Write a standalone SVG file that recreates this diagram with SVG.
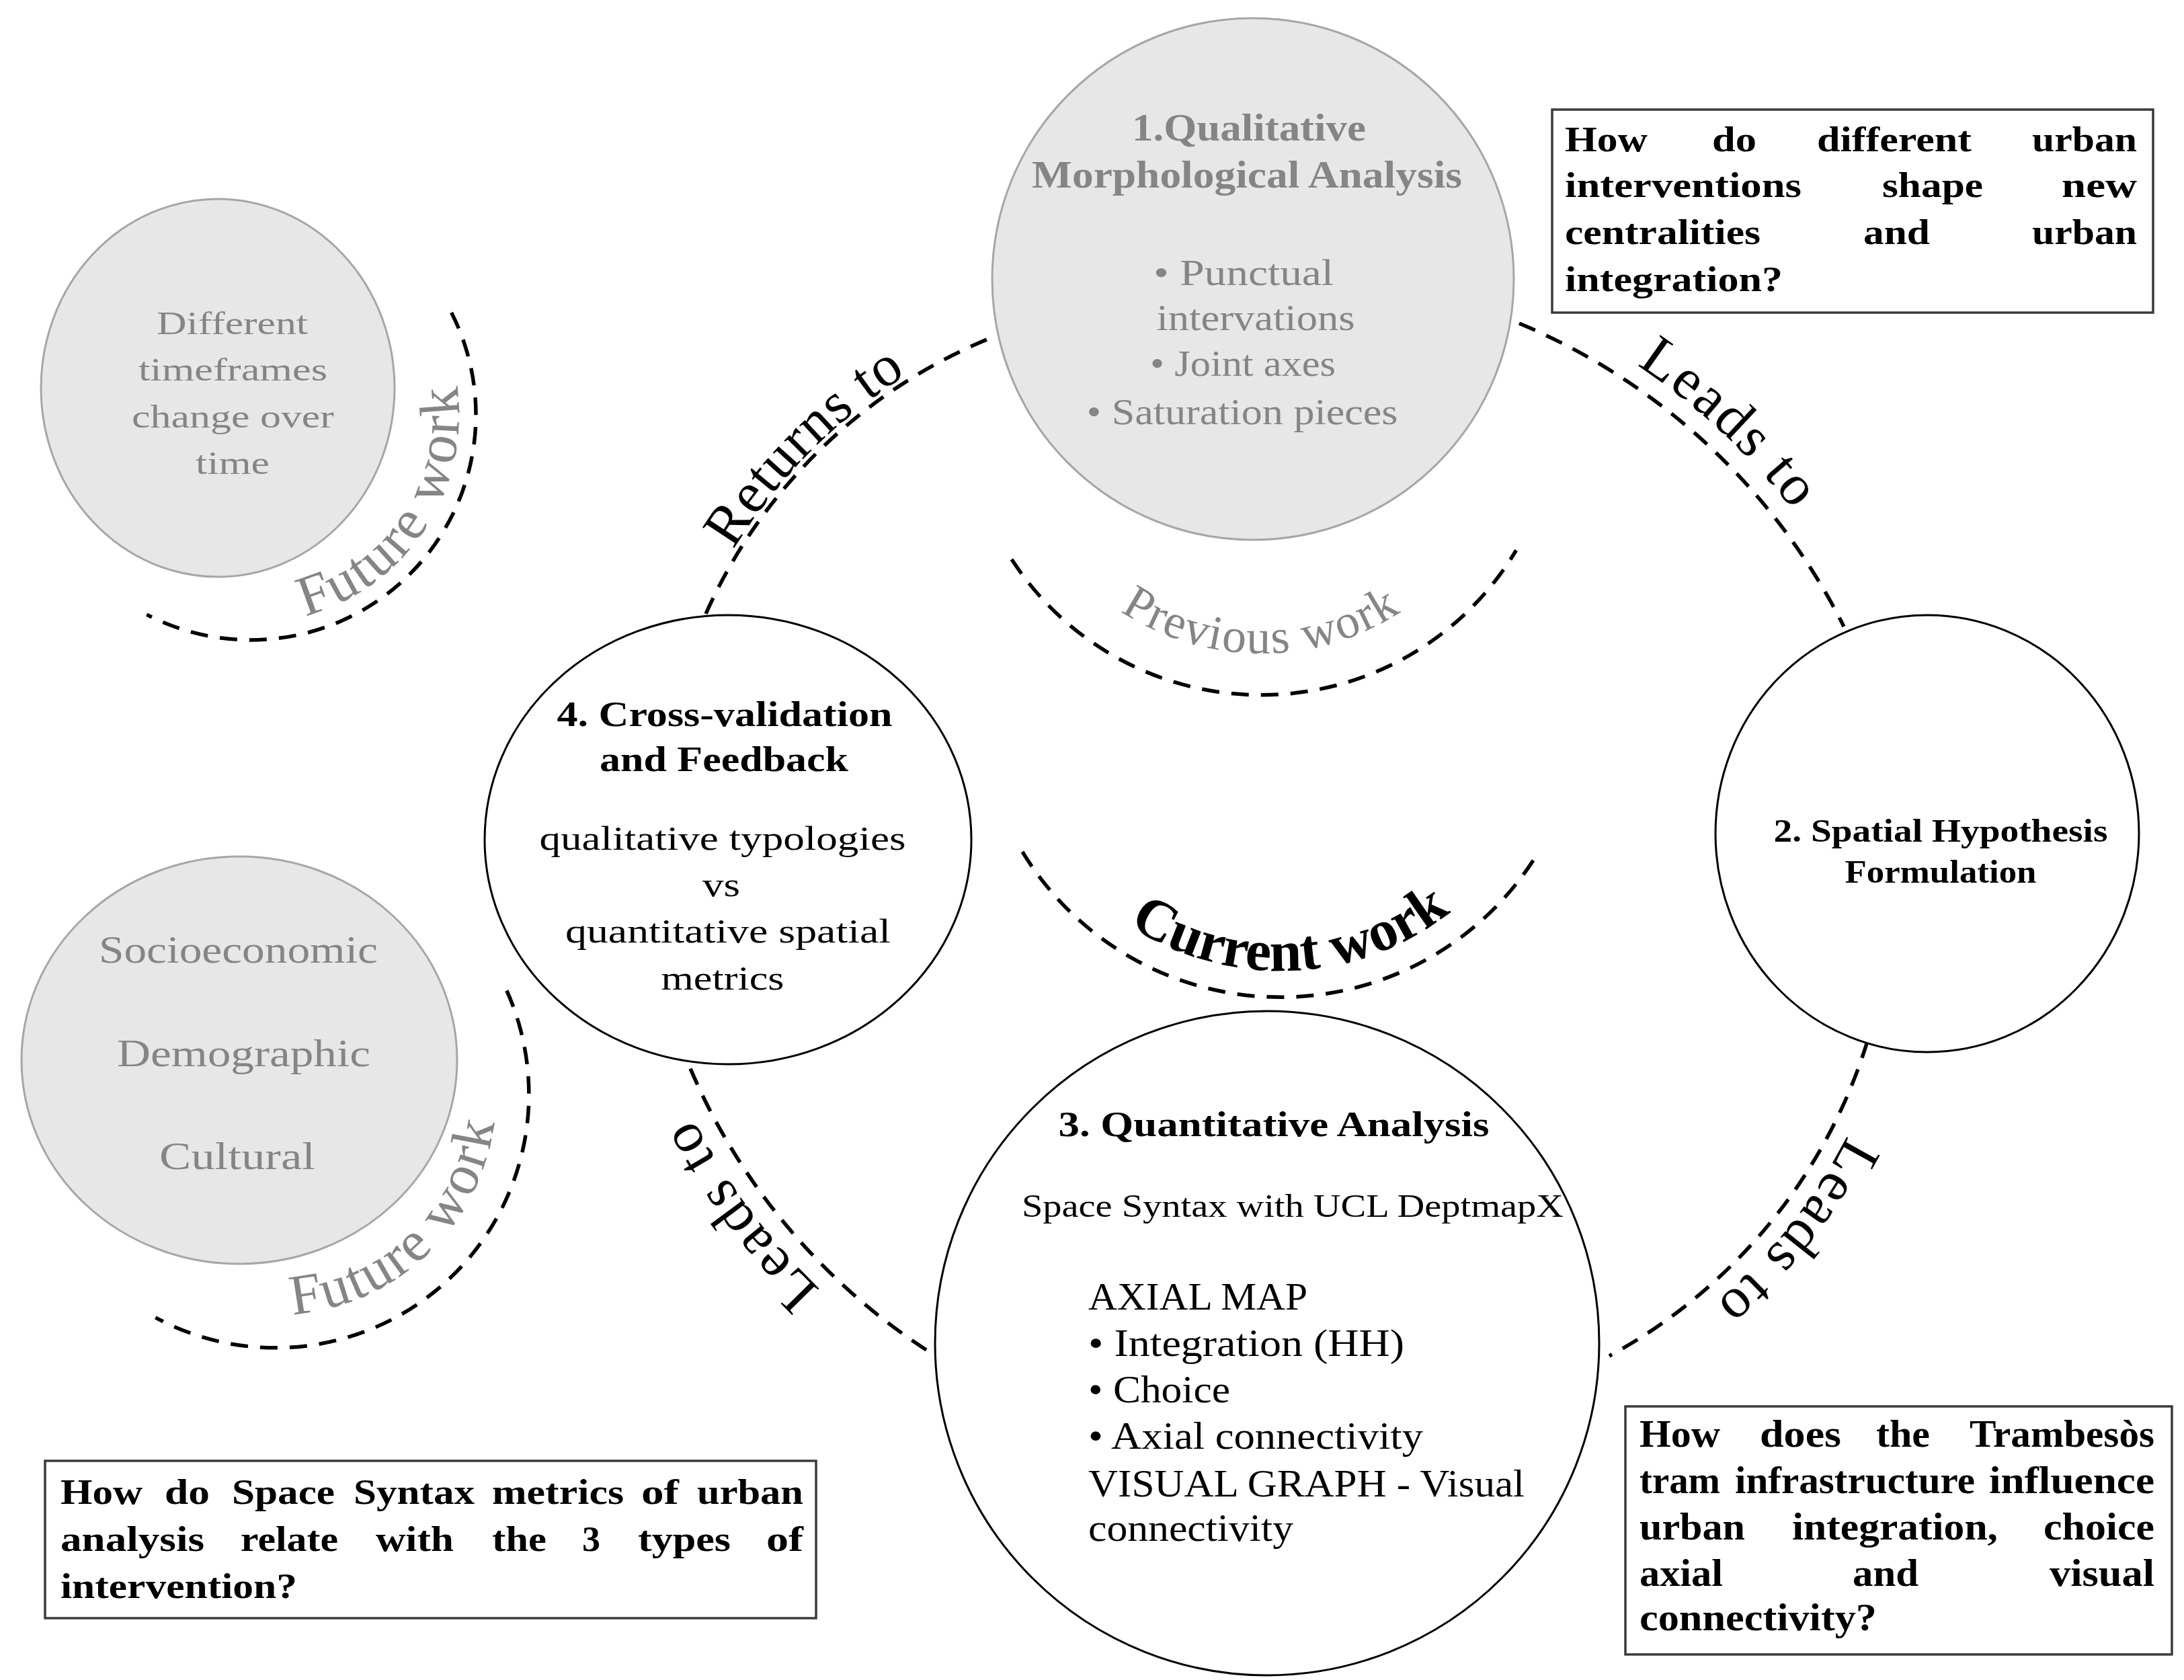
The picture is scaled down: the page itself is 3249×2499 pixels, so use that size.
<svg xmlns="http://www.w3.org/2000/svg" xmlns:xlink="http://www.w3.org/1999/xlink" width="3249" height="2499" viewBox="0 0 3249 2499">
<style>
.t{font-family:"Liberation Serif","Times New Roman",serif}
.b{font-weight:bold}
.gt{fill:#858585}
.bk{fill:#000}
.gc{fill:#e7e7e7;stroke:#a6a6a6;stroke-width:3}
.wc{fill:#fff;stroke:#000;stroke-width:3}
.dash{fill:none;stroke:#000;stroke-width:5.5;stroke-dasharray:26 18}
.box{fill:#fff;stroke:#3a3a3a;stroke-width:3.5}
.lbl{font-size:86px;letter-spacing:3.5px}
</style>
<defs>
<path id="tp1" d="M 2270.8 455.2 A 978 978 0 0 1 2768 919.5"/>
<path id="tp2" d="M 2801.9 1556.3 A 825 825 0 0 1 2405.9 2039"/>
<path id="tp3" d="M 1362.7 2031.5 A 968 968 0 0 1 997.2 1590.7"/>
<path id="tp4" d="M 1042.7 909.8 A 798 798 0 0 1 1475.1 493.6"/>
<path id="tpPrev" d="M 1546.9 782 A 380 380 0 0 0 2205.1 782"/>
<path id="tpCur" d="M 1549.9 1239 A 410 410 0 0 0 2260.1 1239"/>
<path id="tpFut1" d="M 355.7 926.5 A 310 310 0 0 0 649.7 477.2"/>
<path id="tpFut2" d="M 318.5 1943 A 328 328 0 0 0 728.5 1549.8"/>
</defs>
<rect width="3249" height="2499" fill="#fff"/>

<g id="connectors">
<path class="dash" d="M 2260 481 A 950 950 0 0 1 2743 932"/>
<path class="dash" d="M 2778 1549 A 800 800 0 0 1 2394 2017"/>
<path class="dash" d="M 1378 2008 A 940 940 0 0 1 1023 1580"/>
<path class="dash" d="M 1050 913 A 790 790 0 0 1 1478 501"/>
<text class="t lbl bk"><textPath xlink:href="#tp1" href="#tp1" startOffset="50%" text-anchor="middle">Leads to</textPath></text>
<text class="t lbl bk"><textPath xlink:href="#tp2" href="#tp2" startOffset="47.5%" text-anchor="middle">Leads to</textPath></text>
<text class="t lbl bk"><textPath xlink:href="#tp3" href="#tp3" startOffset="59%" text-anchor="middle">Leads to</textPath></text>
<text class="t bk" font-size="86" letter-spacing="1.5"><textPath xlink:href="#tp4" href="#tp4" startOffset="47%" text-anchor="middle">Returns to</textPath></text>
</g>

<g id="previous-work">
<path class="dash" d="M 1505 832 A 442 442 0 0 0 2255.5 818.5"/>
<text class="t gt" font-size="72" letter-spacing="2"><textPath xlink:href="#tpPrev" href="#tpPrev" startOffset="50%" text-anchor="middle">Previous work</textPath></text>
</g>

<g id="current-work">
<path class="dash" d="M 1521 1267 A 449 449 0 0 0 2289 1267"/>
<text class="t b bk" font-size="86"><textPath xlink:href="#tpCur" href="#tpCur" startOffset="52%" text-anchor="middle">Current work</textPath></text>
</g>

<g id="future-work-1">
<path class="dash" d="M 671.5 464.9 A 335 335 0 0 1 218.3 914.1"/>
<text class="t gt" font-size="85" letter-spacing="3"><textPath xlink:href="#tpFut1" href="#tpFut1" startOffset="50%" text-anchor="middle">Future work</textPath></text>
</g>

<g id="future-work-2">
<path class="dash" d="M 753.8 1473.5 A 377 377 0 0 1 231.3 1959.9"/>
<text class="t gt" font-size="85" letter-spacing="3"><textPath xlink:href="#tpFut2" href="#tpFut2" startOffset="50%" text-anchor="middle">Future work</textPath></text>
</g>

<g id="node1">
<circle class="gc" cx="1864" cy="415" r="388"/>
<g class="t gt" text-anchor="middle">
<text class="b" x="1858" y="209" font-size="56" textLength="348" lengthAdjust="spacingAndGlyphs">1.Qualitative</text>
<text class="b" x="1855" y="279" font-size="56" textLength="640" lengthAdjust="spacingAndGlyphs">Morphological Analysis</text>
<text x="1850" y="424" font-size="54" textLength="268" lengthAdjust="spacingAndGlyphs">• Punctual</text>
<text x="1868" y="491" font-size="54" textLength="295" lengthAdjust="spacingAndGlyphs">intervations</text>
<text x="1849" y="559" font-size="54" textLength="276" lengthAdjust="spacingAndGlyphs">• Joint axes</text>
<text x="1848" y="631" font-size="54" textLength="463" lengthAdjust="spacingAndGlyphs">• Saturation pieces</text>
</g>
</g>

<g id="node-timeframes">
<ellipse class="gc" cx="324" cy="577" rx="263" ry="281"/>
<g class="t gt" font-size="48">
<text x="233" y="497" textLength="225" lengthAdjust="spacingAndGlyphs">Different</text>
<text x="206" y="566" textLength="281" lengthAdjust="spacingAndGlyphs">timeframes</text>
<text x="196" y="636" textLength="301" lengthAdjust="spacingAndGlyphs">change over</text>
<text x="291" y="705" textLength="110" lengthAdjust="spacingAndGlyphs">time</text>
</g>
</g>

<g id="node-socio">
<ellipse class="gc" cx="356" cy="1577" rx="324" ry="303"/>
<g class="t gt" font-size="56">
<text x="147" y="1432" textLength="415" lengthAdjust="spacingAndGlyphs">Socioeconomic</text>
<text x="174" y="1586" textLength="377" lengthAdjust="spacingAndGlyphs">Demographic</text>
<text x="237" y="1739" textLength="232" lengthAdjust="spacingAndGlyphs">Cultural</text>
</g>
</g>

<g id="node2">
<ellipse class="wc" cx="2867" cy="1240" rx="315" ry="325"/>
<g class="t b bk" font-size="48" text-anchor="middle">
<text x="2887" y="1252" textLength="497" lengthAdjust="spacingAndGlyphs">2. Spatial Hypothesis</text>
<text x="2887" y="1313" textLength="285" lengthAdjust="spacingAndGlyphs">Formulation</text>
</g>
</g>

<g id="node4">
<ellipse class="wc" cx="1083" cy="1249" rx="362" ry="334"/>
<g class="t bk" text-anchor="middle">
<text class="b" x="1078" y="1080" font-size="52" textLength="499" lengthAdjust="spacingAndGlyphs">4. Cross-validation</text>
<text class="b" x="1077" y="1147" font-size="52" textLength="370" lengthAdjust="spacingAndGlyphs">and Feedback</text>
<text x="1075" y="1264" font-size="50" textLength="545" lengthAdjust="spacingAndGlyphs">qualitative typologies</text>
<text x="1073" y="1333" font-size="50" textLength="56" lengthAdjust="spacingAndGlyphs">vs</text>
<text x="1083" y="1402" font-size="50" textLength="484" lengthAdjust="spacingAndGlyphs">quantitative spatial</text>
<text x="1075" y="1472" font-size="50" textLength="183" lengthAdjust="spacingAndGlyphs">metrics</text>
</g>
</g>

<g id="node3">
<circle class="wc" cx="1885" cy="1998" r="494"/>
<g class="t bk">
<text class="b" x="1895" y="1690" font-size="52" text-anchor="middle" textLength="641" lengthAdjust="spacingAndGlyphs">3. Quantitative Analysis</text>
<text x="1923" y="1810" font-size="48" text-anchor="middle" textLength="806" lengthAdjust="spacingAndGlyphs">Space Syntax with UCL DeptmapX</text>
<text x="1619" y="1948" font-size="56" textLength="326" lengthAdjust="spacingAndGlyphs">AXIAL MAP</text>
<text x="1619" y="2017" font-size="56" textLength="470" lengthAdjust="spacingAndGlyphs">• Integration (HH)</text>
<text x="1619" y="2086" font-size="56" textLength="211" lengthAdjust="spacingAndGlyphs">• Choice</text>
<text x="1619" y="2155" font-size="56" textLength="498" lengthAdjust="spacingAndGlyphs">• Axial connectivity</text>
<text x="1619" y="2226" font-size="56" textLength="649" lengthAdjust="spacingAndGlyphs">VISUAL GRAPH - Visual</text>
<text x="1619" y="2292" font-size="56" textLength="305" lengthAdjust="spacingAndGlyphs">connectivity</text>
</g>
</g>

<g id="box-top-right">
<rect class="box" x="2309" y="163" width="894" height="302"/>
<g class="t b bk" font-size="52">
<text x="2328" y="225" textLength="123" lengthAdjust="spacingAndGlyphs">How</text>
<text x="2547" y="225" textLength="66" lengthAdjust="spacingAndGlyphs">do</text>
<text x="2703" y="225" textLength="230" lengthAdjust="spacingAndGlyphs">different</text>
<text x="3023" y="225" textLength="156" lengthAdjust="spacingAndGlyphs">urban</text>
<text x="2328" y="293" textLength="352" lengthAdjust="spacingAndGlyphs">interventions</text>
<text x="2800" y="293" textLength="150" lengthAdjust="spacingAndGlyphs">shape</text>
<text x="3067" y="293" textLength="112" lengthAdjust="spacingAndGlyphs">new</text>
<text x="2328" y="363" textLength="291" lengthAdjust="spacingAndGlyphs">centralities</text>
<text x="2772" y="363" textLength="99" lengthAdjust="spacingAndGlyphs">and</text>
<text x="3023" y="363" textLength="156" lengthAdjust="spacingAndGlyphs">urban</text>
<text x="2328" y="433" textLength="324" lengthAdjust="spacingAndGlyphs">integration?</text>
</g>
</g>

<g id="box-bottom-right">
<rect class="box" x="2418" y="2092" width="813" height="369"/>
<g class="t b bk" font-size="56">
<text x="2439" y="2152" textLength="120" lengthAdjust="spacingAndGlyphs">How</text>
<text x="2618" y="2152" textLength="121" lengthAdjust="spacingAndGlyphs">does</text>
<text x="2791" y="2152" textLength="80" lengthAdjust="spacingAndGlyphs">the</text>
<text x="2930" y="2152" textLength="275" lengthAdjust="spacingAndGlyphs">Trambesòs</text>
<text x="2439" y="2221" textLength="120" lengthAdjust="spacingAndGlyphs">tram</text>
<text x="2581" y="2221" textLength="357" lengthAdjust="spacingAndGlyphs">infrastructure</text>
<text x="2959" y="2221" textLength="246" lengthAdjust="spacingAndGlyphs">influence</text>
<text x="2439" y="2290" textLength="157" lengthAdjust="spacingAndGlyphs">urban</text>
<text x="2666" y="2290" textLength="306" lengthAdjust="spacingAndGlyphs">integration,</text>
<text x="3040" y="2290" textLength="165" lengthAdjust="spacingAndGlyphs">choice</text>
<text x="2439" y="2359" textLength="124" lengthAdjust="spacingAndGlyphs">axial</text>
<text x="2756" y="2359" textLength="98" lengthAdjust="spacingAndGlyphs">and</text>
<text x="3049" y="2359" textLength="156" lengthAdjust="spacingAndGlyphs">visual</text>
<text x="2439" y="2425" textLength="353" lengthAdjust="spacingAndGlyphs">connectivity?</text>
</g>
</g>

<g id="box-bottom-left">
<rect class="box" x="67" y="2173" width="1147" height="234"/>
<g class="t b bk" font-size="52">
<text x="90" y="2237" textLength="122" lengthAdjust="spacingAndGlyphs">How</text>
<text x="245" y="2237" textLength="67" lengthAdjust="spacingAndGlyphs">do</text>
<text x="345" y="2237" textLength="153" lengthAdjust="spacingAndGlyphs">Space</text>
<text x="526" y="2237" textLength="180" lengthAdjust="spacingAndGlyphs">Syntax</text>
<text x="732" y="2237" textLength="196" lengthAdjust="spacingAndGlyphs">metrics</text>
<text x="954" y="2237" textLength="56" lengthAdjust="spacingAndGlyphs">of</text>
<text x="1037" y="2237" textLength="158" lengthAdjust="spacingAndGlyphs">urban</text>
<text x="90" y="2307" textLength="214" lengthAdjust="spacingAndGlyphs">analysis</text>
<text x="358" y="2307" textLength="145" lengthAdjust="spacingAndGlyphs">relate</text>
<text x="559" y="2307" textLength="116" lengthAdjust="spacingAndGlyphs">with</text>
<text x="732" y="2307" textLength="81" lengthAdjust="spacingAndGlyphs">the</text>
<text x="866" y="2307" textLength="27" lengthAdjust="spacingAndGlyphs">3</text>
<text x="949" y="2307" textLength="138" lengthAdjust="spacingAndGlyphs">types</text>
<text x="1140" y="2307" textLength="55" lengthAdjust="spacingAndGlyphs">of</text>
<text x="90" y="2377" textLength="352" lengthAdjust="spacingAndGlyphs">intervention?</text>
</g>
</g>
</svg>
